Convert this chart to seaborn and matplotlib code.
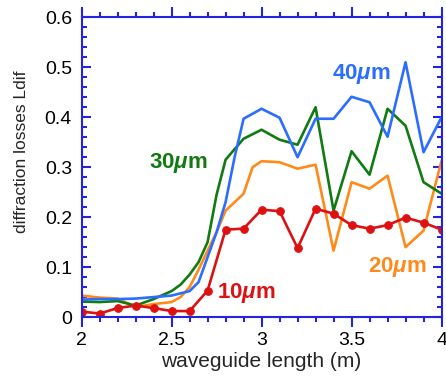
import numpy as np
import pandas as pd
import matplotlib
matplotlib.use("Agg")
import matplotlib.pyplot as plt
import seaborn as sns
from matplotlib.ticker import MultipleLocator

# ---- data ----
x_10 = [2.0, 2.1, 2.2, 2.3, 2.4, 2.5, 2.6, 2.7, 2.8, 2.9, 3.0, 3.1, 3.2, 3.3, 3.4, 3.5, 3.6, 3.7, 3.8, 3.9, 4.0]
y_10 = [0.011, 0.007, 0.018, 0.023, 0.018, 0.012, 0.012, 0.053, 0.175, 0.177, 0.215, 0.212, 0.138, 0.217,
        0.207, 0.184, 0.177, 0.184, 0.199, 0.189, 0.175]

x_20 = [2.0, 2.1, 2.2, 2.3, 2.4, 2.5, 2.55, 2.6, 2.65, 2.7, 2.75, 2.8, 2.9, 2.95, 3.0, 3.1, 3.2, 3.3, 3.4,
        3.5, 3.6, 3.7, 3.8, 3.9, 4.0]
y_20 = [0.043, 0.039, 0.037, 0.020, 0.026, 0.030, 0.040, 0.060, 0.095, 0.133, 0.170, 0.213, 0.247, 0.300,
        0.312, 0.310, 0.297, 0.305, 0.133, 0.270, 0.257, 0.283, 0.140, 0.173, 0.313]

x_30 = [2.0, 2.1, 2.2, 2.3, 2.4, 2.5, 2.55, 2.6, 2.65, 2.7, 2.75, 2.8, 2.9, 3.0, 3.1, 3.2, 3.3, 3.4, 3.5,
        3.6, 3.7, 3.8, 3.9, 4.0]
y_30 = [0.031, 0.030, 0.032, 0.023, 0.036, 0.052, 0.065, 0.085, 0.110, 0.150, 0.245, 0.315, 0.357, 0.375,
        0.355, 0.345, 0.420, 0.213, 0.332, 0.285, 0.417, 0.383, 0.270, 0.247]

x_40 = [2.0, 2.1, 2.2, 2.3, 2.4, 2.5, 2.6, 2.65, 2.7, 2.75, 2.8, 2.85, 2.9, 3.0, 3.1, 3.2, 3.3, 3.4, 3.5,
        3.6, 3.7, 3.8, 3.9, 4.0]
y_40 = [0.035, 0.036, 0.036, 0.037, 0.040, 0.043, 0.052, 0.070, 0.120, 0.170, 0.230, 0.320, 0.397, 0.417,
        0.399, 0.320, 0.397, 0.397, 0.441, 0.430, 0.361, 0.510, 0.330, 0.400]

x_ticks = [2, 2.5, 3, 3.5, 4]
x_tick_labels = ["2", "2.5", "3", "3.5", "4"]
y_ticks = [0, 0.1, 0.2, 0.3, 0.4, 0.5, 0.6]
y_tick_labels = ["0", "0.1", "0.2", "0.3", "0.4", "0.5", "0.6"]

colors = {"10": "#dd1111", "20": "#ff8a1a", "30": "#117a11", "40": "#2a6dff"}
spine_color = "#2424e0"

sns.set_style("white")
plt.rcParams['font.family'] = ['Liberation Sans', 'DejaVu Sans']
plt.rcParams['mathtext.fontset'] = 'custom'
plt.rcParams['mathtext.it'] = 'Liberation Sans:italic:bold'
plt.rcParams['mathtext.rm'] = 'Liberation Sans:bold'

fig = plt.figure(figsize=(4.46, 3.77), dpi=100)
ax = fig.add_axes([0.183, 0.159, 0.807, 0.795])

df20 = pd.DataFrame({"x": x_20, "y": y_20})
df30 = pd.DataFrame({"x": x_30, "y": y_30})
df40 = pd.DataFrame({"x": x_40, "y": y_40})
df10 = pd.DataFrame({"x": x_10, "y": y_10})

lw = 1.9
sns.lineplot(data=df20, x="x", y="y", color=colors["20"], lw=lw, ax=ax)
sns.lineplot(data=df30, x="x", y="y", color=colors["30"], lw=lw, ax=ax)
sns.lineplot(data=df40, x="x", y="y", color=colors["40"], lw=lw, ax=ax)
sns.lineplot(data=df10, x="x", y="y", color=colors["10"], lw=lw, marker="o", markersize=5.5,
             markeredgecolor=colors["10"], ax=ax)

ax.set_xlim(2, 4)
ax.set_ylim(0, 0.6)
ax.xaxis.set_minor_locator(MultipleLocator(0.1))
ax.yaxis.set_minor_locator(MultipleLocator(0.02))
ax.set_xticks(x_ticks)
ax.set_xticklabels(x_tick_labels)
ax.set_yticks(y_ticks)
ax.set_yticklabels(y_tick_labels)

for s in ax.spines.values():
    s.set_color(spine_color)
    s.set_linewidth(1.5)
ax.tick_params(axis="x", which="both", direction="out", top=True, bottom=True, color=spine_color,
               labelcolor="black", labelsize=14, width=1.5)
ax.tick_params(axis="x", which="major", length=7, pad=4)
ax.tick_params(axis="x", which="minor", length=3.8)
ax.tick_params(axis="y", which="both", direction="in", left=True, right=True, color=spine_color,
               labelcolor="black", labelsize=14, width=1.5)
ax.tick_params(axis="y", which="major", length=6.5, pad=7)
ax.tick_params(axis="y", which="minor", length=3.8)

ax.set_xlabel("waveguide length (m)", fontsize=15, labelpad=2)
ax.set_ylabel("diffraction losses Ldif", fontsize=12.5)
ax.yaxis.set_label_coords(-0.147, 0.553)

txt_kw = dict(fontsize=16, fontweight="bold", ha="center", va="center")
ax.text(3.552, 0.486, "40$\\mu$m", color=colors["40"], **txt_kw)
ax.text(2.535, 0.309, "30$\\mu$m", color=colors["30"], **txt_kw)
ax.text(3.752, 0.101, "20$\\mu$m", color=colors["20"], **txt_kw)
ax.text(2.913, 0.049, "10$\\mu$m", color=colors["10"], **txt_kw)

fig.savefig("out.png", dpi=100)
